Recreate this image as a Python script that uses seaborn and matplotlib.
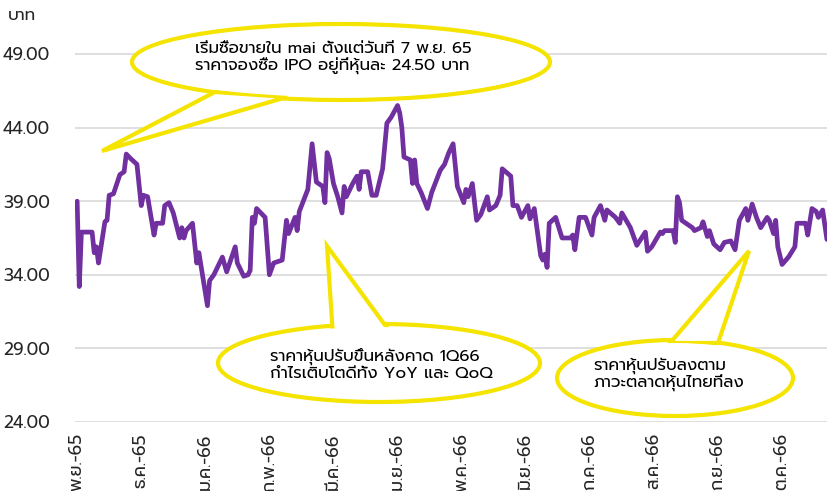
import matplotlib
matplotlib.use("Agg")
import matplotlib.pyplot as plt
import seaborn as sns
import pandas as pd
from matplotlib.patches import Ellipse, Polygon

# ---------------- data ----------------
# days since 7 Nov 2022 (trading timeline) and closing prices (THB)
days = [0, 1, 2, 7, 8, 9, 10, 13, 14, 15, 17, 20, 22, 23, 25, 28, 30, 31, 33, 36,
        37, 40, 41, 43, 45, 48, 49, 50, 51, 54, 56, 57, 61, 62, 64, 68, 70, 74, 75, 78,
        80, 81, 82, 83, 84, 88, 90, 92, 96, 98, 99, 102, 103, 104, 108, 110, 112, 115, 116, 117,
        118, 120, 122, 124, 125, 126, 129, 131, 132, 133, 136, 138, 140, 143, 145, 147, 150, 151, 152, 153,
        156, 157, 158, 159, 161, 164, 166, 170, 172, 174, 176, 178, 181, 182, 183, 185, 187, 189, 192, 193,
        196, 198, 199, 203, 204, 206, 208, 211, 212, 214, 217, 218, 219, 220, 221, 224, 227, 231, 232, 233,
        235, 238, 241, 242, 245, 247, 248, 252, 254, 255, 259, 262, 266, 267, 269, 273, 274, 275, 279, 280,
        281, 282, 283, 288, 289, 292, 293, 295, 296, 298, 301, 303, 306, 308, 310, 313, 314, 316, 318, 320,
        323, 324, 326, 327, 328, 330, 333, 336, 337, 341, 342, 344, 346, 347, 349, 350, 351]
prices = [39.0, 33.2, 36.9, 36.9, 35.5, 35.9, 34.8, 37.6, 37.7, 39.4, 39.5, 40.8, 41.0, 42.2, 41.9, 41.5, 38.7, 39.4, 39.3, 36.7,
          37.5, 37.5, 38.7, 38.9, 38.2, 36.5, 37.2, 36.5, 37.0, 37.5, 34.8, 35.5, 31.9, 33.6, 34.0, 35.2, 34.2, 35.9, 34.8, 33.9,
          34.0, 34.3, 37.9, 37.5, 38.5, 37.9, 34.0, 34.8, 35.0, 37.7, 36.8, 37.9, 37.0, 38.3, 39.8, 42.9, 40.3, 40.0, 38.9, 42.3,
          41.9, 40.2, 39.3, 38.2, 40.0, 39.3, 40.2, 40.7, 39.8, 41.0, 41.0, 39.4, 39.4, 41.2, 44.3, 44.7, 45.5, 45.0, 44.0, 42.0,
          41.8, 40.2, 41.8, 40.2, 39.6, 38.5, 39.6, 41.1, 41.5, 42.3, 42.9, 40.0, 38.9, 39.8, 39.3, 40.2, 37.7, 38.1, 39.3, 38.4,
          38.7, 39.4, 41.2, 40.7, 38.7, 38.7, 37.9, 38.7, 37.8, 38.5, 35.3, 35.0, 35.4, 34.5, 37.5, 37.9, 36.5, 36.5, 36.7, 35.7,
          37.9, 37.9, 36.7, 37.9, 38.7, 37.7, 38.4, 37.9, 37.5, 38.2, 37.2, 36.0, 36.9, 35.6, 35.9, 36.9, 36.8, 37.0, 37.0, 36.2,
          39.3, 38.9, 37.7, 37.2, 37.0, 37.2, 37.6, 36.6, 37.0, 36.1, 35.7, 36.2, 36.3, 35.7, 37.7, 38.5, 37.7, 38.8, 37.9, 37.2,
          37.9, 37.7, 36.8, 37.7, 35.9, 34.7, 35.2, 35.9, 37.5, 37.5, 36.7, 38.5, 38.3, 37.9, 38.4, 37.4, 36.4]

tick_days = [0, 30, 60, 90, 120, 150, 180, 210, 240, 270, 300, 330]
tick_labels = ["พ.ย.-65", "ธ.ค.-65", "ม.ค.-66", "ก.พ.-66", "มี.ค.-66", "เม.ย.-66",
               "พ.ค.-66", "มิ.ย.-66", "ก.ค.-66", "ส.ค.-66", "ก.ย.-66", "ต.ค.-66"]
y_ticks = [24, 29, 34, 39, 44, 49]
y_label = "บาท"

note_ipo = "เริ่มซื้อขายใน mai ตั้งแต่วันที่ 7 พ.ย. 65\nราคาจองซื้อ IPO อยู่ที่หุ้นละ 24.50 บาท"
note_up = "ราคาหุ้นปรับขึ้นหลังคาด 1Q66\nกำไรเติบโตดีทั้ง YoY และ QoQ"
note_down = "ราคาหุ้นปรับลงตาม\nภาวะตลาดหุ้นไทยที่ลง"

df = pd.DataFrame({"day": days, "price": prices})

# ---------------- style ----------------
sns.set_style("white")
plt.rcParams["font.family"] = ["Prompt", "Noto Sans Thai", "DejaVu Sans"]

W, H = 828, 491
fig = plt.figure(figsize=(W / 100, H / 100), dpi=100)
# axes: left edge 75px, right edge 828px, 49 at y=54px, 24 at y=422px
ax = fig.add_axes([75 / W, 1 - 422 / H, (828 - 75) / W, (422 - 46.6) / H])

PURPLE = "#7030A0"
YELLOW = "#F5E400"
GRID = "#D9D9D9"
TXT = "#262626"

sns.lineplot(data=df, x="day", y="price", ax=ax, color=PURPLE, linewidth=3.4, zorder=3)

ax.set_xlim(-1, 351.5)
ax.set_ylim(24, 49.5)
ax.set_yticks(y_ticks)
ax.set_yticklabels([f"{v:.2f}" for v in y_ticks])
ax.set_xticks(tick_days)
ax.set_xticklabels(tick_labels, rotation=90, va="top", ha="center")
ax.grid(axis="y", color=GRID, linewidth=1.2)
ax.grid(axis="x", visible=False)
for s in ax.spines.values():
    s.set_visible(False)
ax.tick_params(axis="both", length=0, labelsize=12.5, colors=TXT)
for lbl in ax.get_yticklabels():
    lbl.set_horizontalalignment("left")
ax.tick_params(axis="y", pad=72 * 0.72)
ax.tick_params(axis="x", pad=8)
ax.set_xlabel("")
ax.set_ylabel("")

fig.text(8 / W, 1 - 16 / H, y_label, fontsize=12, color=TXT, va="center", ha="left")


def P(x, y):
    return (x / W, 1 - y / H)


def callout(cx, cy, w, h, base1, tip, base2, text, tx, ty):
    tr = fig.transFigure
    e = Ellipse(P(cx, cy), w / W, h / H, transform=tr, facecolor="white",
                edgecolor=YELLOW, linewidth=3, zorder=10)
    fig.patches.append(e)
    poly = Polygon([P(*base1), P(*tip), P(*base2)], closed=True, transform=tr,
                   facecolor="white", edgecolor=YELLOW, linewidth=3, zorder=11,
                   joinstyle="miter")
    fig.patches.append(poly)
    inner = Ellipse(P(cx, cy), (w - 6) / W, (h - 6) / H, transform=tr,
                    facecolor="white", edgecolor="none", zorder=12)
    fig.patches.append(inner)
    fig.text(tx / W, 1 - ty / H, text, fontsize=12, color="black", ha="left",
             va="center", linespacing=1.05, zorder=13)


callout(341, 62, 418, 76, (215, 92), (102, 151), (287, 97), note_ipo, 195, 58)
callout(379, 363, 322, 78, (333, 336), (327, 246), (393, 336), note_up, 270, 365)
callout(675, 378, 236, 76, (670, 343), (749, 251), (718, 343), note_down, 593, 375)

fig.savefig("out.png", dpi=100)
